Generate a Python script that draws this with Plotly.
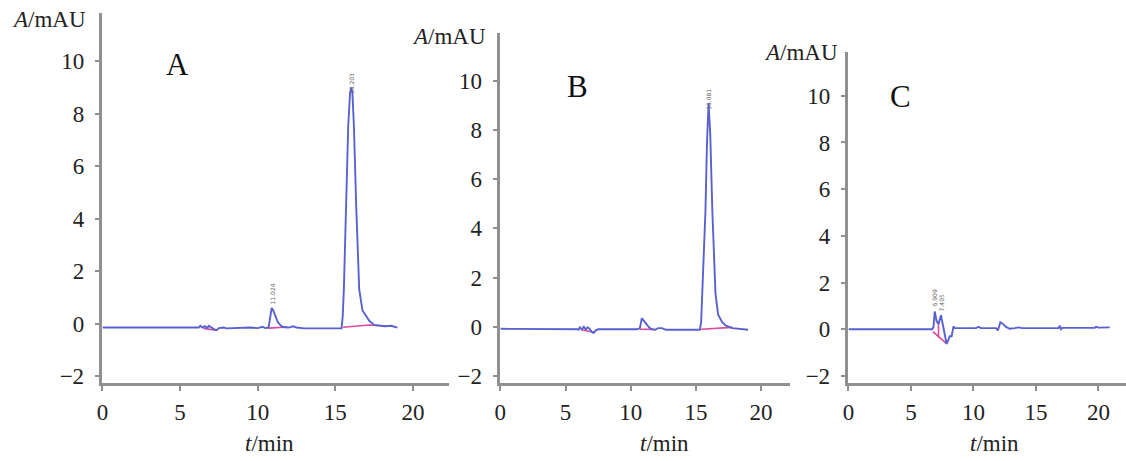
import plotly.graph_objects as go

# ---------------- data ----------------
t_A = [0, 6.2, 6.3, 6.45, 6.6, 6.75, 6.85, 7.0, 7.2, 7.35, 7.5, 7.8, 8.0, 9.5, 9.8, 10.0, 10.3, 10.5,
       10.7, 10.8, 10.9, 11.0, 11.15, 11.3, 11.5, 11.7, 12.0, 12.3, 12.5, 13.0, 15.4, 15.48, 15.55,
       15.7, 15.83, 15.95, 16.03, 16.1, 16.2, 16.35, 16.54, 16.75, 17.0, 17.2, 17.5, 17.8, 18.2,
       18.6, 19.0]
a_A = [-0.15, -0.15, -0.08, -0.15, -0.1, -0.17, -0.08, -0.15, -0.22, -0.25, -0.17, -0.15, -0.18, -0.15,
       -0.15, -0.17, -0.12, -0.17, -0.15, 0.2, 0.6, 0.5, 0.25, 0.05, -0.08, -0.14, -0.15, -0.1, -0.15,
       -0.18, -0.18, 0.3, 1.3, 4.4, 7.5, 8.8, 9.0, 8.8, 7.5, 4.4, 1.3, 0.5, 0.25, 0.1, -0.05, -0.08,
       -0.1, -0.08, -0.15]
base_tA = [6.5, 7.3, None, 10.7, 11.9, None, 15.5, 17.2, 18.3]
base_aA = [-0.18, -0.25, None, -0.17, -0.13, None, -0.14, -0.05, -0.1]

t_B = [0, 3.0, 3.2, 5.9, 6.0, 6.1, 6.25, 6.4, 6.55, 6.7, 6.85, 7.0, 7.15, 7.3, 7.5, 8.5, 10.5, 10.7,
       10.85, 11.0, 11.2, 11.4, 11.6, 11.9, 12.1, 12.4, 12.7, 15.3, 15.4, 15.5, 15.73, 15.85, 15.97,
       16.1, 16.26, 16.5, 16.7, 17.0, 17.3, 17.8, 18.5, 19.0]
a_B = [-0.08, -0.08, -0.1, -0.1, -0.12, -0.02, -0.1, 0.0, -0.1, -0.02, -0.08, -0.2, -0.25, -0.15, -0.1,
       -0.1, -0.1, -0.05, 0.35, 0.25, 0.1, -0.02, -0.1, -0.12, -0.05, -0.05, -0.12, -0.12, 0.2, 1.36,
       4.7, 7.5, 9.1, 7.8, 4.7, 1.36, 0.5, 0.2, 0.05, -0.05, -0.08, -0.12]
base_tB = [6.2, 7.2, None, 10.7, 11.8, None, 15.4, 17.8]
base_aB = [-0.12, -0.22, None, -0.1, -0.1, None, -0.1, -0.02]

t_C = [0, 6.7, 6.8, 6.9, 7.05, 7.2, 7.4, 7.55, 7.7, 7.85, 8.0, 8.1, 8.25, 8.4, 8.5, 10.2, 10.4, 10.6,
       11.8, 11.95, 12.15, 12.3, 12.6, 12.9, 13.3, 13.6, 13.9, 16.8, 16.9, 17.0, 17.1, 19.7, 19.8,
       20.0, 20.9]
a_C = [0, 0, 0.1, 0.76, 0.35, 0.22, 0.6, 0.2, -0.3, -0.63, -0.45, -0.3, -0.3, 0.12, 0.05, 0.05, 0.1,
       0.05, 0.05, -0.05, 0.3, 0.25, 0.1, 0.02, 0.05, 0.08, 0.05, 0.05, 0.15, 0.0, 0.06, 0.06, 0.1,
       0.07, 0.08]
base_tC = [6.75, 7.85, None, 7.2, 7.2]
base_aC = [-0.1, -0.62, None, -0.35, 0.22]

peak_labels = {
    "A": [(10.92, 1.15, "11.024"), (16.05, 9.15, "16.203")],
    "B": [(15.97, 9.25, "16.081")],
    "C": [(6.9, 1.35, "6.909"), (7.4, 1.15, "7.405")],
}

x_ticks = [0, 5, 10, 15, 20]
y_ticks = [-2, 0, 2, 4, 6, 8, 10]

# ---------------- layout geometry ----------------
W, H = 1126, 461
panels = {
    # name: (x_left_px, x_right_px, top_px, xmax, ymin, ymax, letter_xy, ytitle_xy, xtitle_x)
    "A": (97, 445, 13, 22.3, -2.26, 11.84, (172, 65), (82, 20), 265),
    "B": (497, 788, 33, 22.2, -2.28, 11.96, (575, 88), (485, 37), 662),
    "C": (847, 1126, 53, 22.2, -2.30, 11.86, (899, 98), (838, 53), 994),
}
bottom_px = 388

series = {"A": (t_A, a_A, base_tA, base_aA),
          "B": (t_B, a_B, base_tB, base_aB),
          "C": (t_C, a_C, base_tC, base_aC)}

AXIS = "#909090"
BLUE = "#5961d0"
PINK = "#d94b9c"
FONT = "Liberation Serif, Times New Roman, serif"
TXT = "#222222"

fig = go.Figure()
annotations = []
layout_axes = {}

for i, name in enumerate(["A", "B", "C"]):
    xl, xr, top, xmax, ymin, ymax, (lx, ly), (tx, ty), xtx = panels[name]
    t, a, bt, ba = series[name]
    sfx = "" if i == 0 else str(i + 1)
    xa, ya = "x" + sfx, "y" + sfx
    fig.add_trace(go.Scatter(x=bt, y=ba, mode="lines", line=dict(color=PINK, width=1.6),
                             xaxis=xa, yaxis=ya, showlegend=False, hoverinfo="skip"))
    fig.add_trace(go.Scatter(x=t, y=a, mode="lines", line=dict(color=BLUE, width=1.9),
                             xaxis=xa, yaxis=ya, showlegend=False))
    common = dict(showline=True, linecolor=AXIS, linewidth=2.5, ticks="outside", ticklen=5,
                  tickwidth=1.5, tickcolor=AXIS, showgrid=False, zeroline=False,
                  tickfont=dict(family=FONT, size=23, color=TXT))
    layout_axes["xaxis" + sfx] = dict(common, domain=[xl / W, min(xr / W, 1.0)],
                                      range=[0, xmax], tickvals=x_ticks, anchor=ya,
                                      ticklabelstandoff=2)
    layout_axes["yaxis" + sfx] = dict(common, domain=[1 - bottom_px / H, 1 - top / H],
                                      range=[ymin, ymax], tickvals=y_ticks, anchor=xa,
                                      ticklabelstandoff=6)
    annotations.append(dict(x=lx / W, y=1 - ly / H, xref="paper", yref="paper", text=name,
                            showarrow=False, font=dict(family=FONT, size=31, color="#111"),
                            xanchor="center", yanchor="middle"))
    annotations.append(dict(x=tx / W, y=1 - ty / H, xref="paper", yref="paper",
                            text="<i>A</i>/mAU", showarrow=False,
                            font=dict(family=FONT, size=23, color=TXT),
                            xanchor="right", yanchor="middle"))
    annotations.append(dict(x=xtx / W, y=1 - 449 / H, xref="paper", yref="paper",
                            text="<i>t</i>/min", showarrow=False,
                            font=dict(family=FONT, size=23, color=TXT),
                            xanchor="center", yanchor="middle"))
    for (px, py, lab) in peak_labels[name]:
        annotations.append(dict(x=px, y=py, xref=xa, yref=ya, text=lab, showarrow=False,
                                textangle=-90, font=dict(family="DejaVu Sans", size=6, color="#666"),
                                xanchor="center", yanchor="middle"))

fig.update_layout(width=W, height=H, margin=dict(l=0, r=0, t=0, b=0),
                  paper_bgcolor="white", plot_bgcolor="white",
                  font=dict(family=FONT, color=TXT),
                  annotations=annotations, **layout_axes)

fig.write_html("out.html", config={"displayModeBar": False},
               post_script="document.body.style.margin='0';document.body.style.overflow='hidden';")
